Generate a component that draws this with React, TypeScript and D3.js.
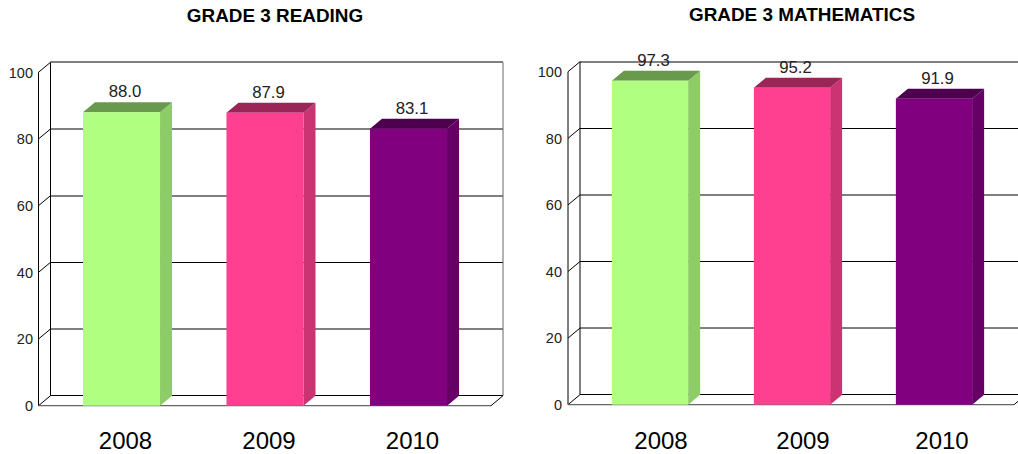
import React from "react";
import * as d3 from "d3";

const categories = ["2008", "2009", "2010"];
const readingValues = [88.0, 87.9, 83.1];
const mathValues = [97.3, 95.2, 91.9];
const tickValues = [0, 20, 40, 60, 80, 100];
const barColors = ["#b0ff80", "#ff4090", "#800080"];
const topColors = ["#68994d", "#992656", "#4d004d"];
const sideColors = ["#8dcc66", "#cc3373", "#660066"];
const FONT = "'Liberation Sans', Arial, sans-serif";
const DX = 12;
const DY = 10;

function Chart({ title, titleX, titleY, values, x0, x1, bandL, bandR, bottom, plotH, labelOffsets, tickX, softTicks }: any) {
  const y = d3.scaleLinear().domain([0, 100]).range([bottom, bottom - plotH]);
  const x = d3.scaleBand().domain(categories).range([bandL, bandR]).paddingInner(0.463).paddingOuter(0.2315);
  const bw = x.bandwidth();
  const frame = "#666";
  return (
    <g fontFamily={FONT}>
      <text x={titleX} y={titleY} textAnchor="middle" fontWeight="bold" fontSize={18.9} fill="#000">{title}</text>
      {tickValues.map((t) => {
        const soft = softTicks.includes(t);
        const gy = soft ? Math.round(y(t) - DY) : Math.floor(y(t) - DY) + 0.5;
        return (
          <g key={t}>
            <line x1={x0} x2={x0 + DX} y1={y(t)} y2={y(t) - DY} stroke="#000" strokeWidth={1} />
            <line x1={x0 + DX} x2={x1 + DX} y1={gy} y2={gy} stroke="#000" strokeWidth={1} />
            <text x={tickX} y={y(t) + 5.2} textAnchor="end" fontSize={14.5} fill="#222">{t}</text>
          </g>
        );
      })}
      <line x1={x0} x2={x0} y1={y(0)} y2={y(100)} stroke="#000" />
      <line x1={x0 + DX} x2={x0 + DX} y1={y(0) - DY} y2={y(100) - DY} stroke="#000" />
      <line x1={x1 + DX} x2={x1 + DX} y1={y(0) - DY} y2={y(100) - DY} stroke={frame} />
      <line x1={x0} x2={x1} y1={y(0)} y2={y(0)} stroke={frame} strokeWidth={1.3} />
      <line x1={x1} x2={x1 + DX} y1={y(0)} y2={y(0) - DY} stroke="#000" />
      {categories.map((c, i) => {
        const left = x(c) as number;
        const top = y(values[i]);
        return (
          <g key={c}>
            <path d={`M${left + bw} ${y(0)}L${left + bw + DX} ${y(0) - DY}L${left + bw + DX} ${top - DY}L${left + bw} ${top}Z`} fill={sideColors[i]} />
            <path d={`M${left} ${top}L${left + DX} ${top - DY}L${left + bw + DX} ${top - DY}L${left + bw} ${top}Z`} fill={topColors[i]} />
            <rect x={left} y={top} width={bw} height={y(0) - top} fill={barColors[i]} />
            <text x={left + bw / 2 + 3.5} y={top - 15} textAnchor="middle" fontSize={16.8} fill="#222">{values[i].toFixed(1)}</text>
            <text x={left + bw / 2 + labelOffsets[i]} y={449} textAnchor="middle" fontSize={24} fill="#000">{c}</text>
          </g>
        );
      })}
    </g>
  );
}

export default function App() {
  return (
    <svg width={1018} height={454} viewBox="0 0 1018 454" style={{ position: "absolute", left: 0, top: 0, display: "block", background: "#fff" }}>
      <Chart title="GRADE 3 READING" titleX={275} titleY={22} values={readingValues} x0={38.5} x1={491} bandL={49.75} bandR={480.25} bottom={405.7} plotH={333.4} labelOffsets={[4, 4, 4]} tickX={33} softTicks={[20, 60, 80, 100]} />
      <Chart title="GRADE 3 MATHEMATICS" titleX={802} titleY={21} values={mathValues} x0={568} x1={1014} bandL={579} bandR={1005} bottom={404.7} plotH={333} labelOffsets={[11, 11, 8]} tickX={562} softTicks={[20, 60, 100]} />
    </svg>
  );
}
